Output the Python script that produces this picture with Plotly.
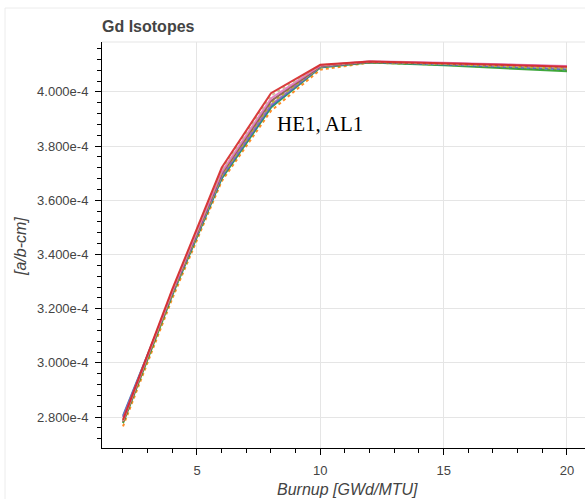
import plotly.graph_objects as go

# ---- data (values in atoms/b-cm) ----
burnup = [2, 4, 6, 8, 10, 12, 15, 20]

series_names = ["Case 1", "Case 2", "Case 3", "Case 4", "Case 5",
                "Case 6", "Case 7", "Case 8", "Case 9"]

case1 = [2.790e-4, 3.272e-4, 3.720e-4, 3.995e-4, 4.100e-4, 4.112e-4, 4.106e-4, 4.093e-4]
case2 = [2.788e-4, 3.268e-4, 3.712e-4, 3.986e-4, 4.098e-4, 4.112e-4, 4.104e-4, 4.090e-4]
case3 = [2.786e-4, 3.264e-4, 3.704e-4, 3.976e-4, 4.097e-4, 4.113e-4, 4.107e-4, 4.095e-4]
case4 = [2.782e-4, 3.260e-4, 3.698e-4, 3.966e-4, 4.095e-4, 4.110e-4, 4.106e-4, 4.094e-4]
case5 = [2.784e-4, 3.256e-4, 3.692e-4, 3.958e-4, 4.094e-4, 4.110e-4, 4.103e-4, 4.085e-4]
case6 = [2.800e-4, 3.258e-4, 3.688e-4, 3.952e-4, 4.093e-4, 4.111e-4, 4.103e-4, 4.086e-4]
case7 = [2.805e-4, 3.256e-4, 3.684e-4, 3.946e-4, 4.092e-4, 4.110e-4, 4.101e-4, 4.083e-4]
case8 = [2.778e-4, 3.250e-4, 3.680e-4, 3.942e-4, 4.090e-4, 4.108e-4, 4.098e-4, 4.076e-4]
case9 = [2.766e-4, 3.238e-4, 3.670e-4, 3.930e-4, 4.082e-4, 4.108e-4, 4.100e-4, 4.080e-4]

all_cases = [case1, case2, case3, case4, case5, case6, case7, case8, case9]

colors = ["#d62728", "#c9bd8f", "#e377c2", "#8c564b", "#bcbd22",
          "#9467bd", "#1f77b4", "#2ca02c", "#ff7f0e"]
dashes = ["solid", "dot", "solid", "solid", "dot",
          "solid", "solid", "solid", "dot"]

y_tick_vals = [2.8e-4, 3.0e-4, 3.2e-4, 3.4e-4, 3.6e-4, 3.8e-4, 4.0e-4]
y_tick_labels = ["2.800e-4", "3.000e-4", "3.200e-4", "3.400e-4",
                 "3.600e-4", "3.800e-4", "4.000e-4"]
x_tick_vals = [5, 10, 15, 20]
x_tick_labels = ["5", "10", "15", "20"]

title_text = "Gd Isotopes"
x_title = "Burnup [GWd/MTU]"
y_title = "[a/b-cm]"
note_text = "HE1, AL1"

# ---- figure ----
W, H = 585, 499
L, R, T, B = 102, 0, 42, 51
PW, PH = W - L - R, H - T - B

def px_to_paper_x(px):
    return (px - L) / PW

def px_to_paper_y(py):
    return (H - B - py) / PH

fig = go.Figure()
# draw in reverse so the red / pink cases sit on top
for name, vals, c, d in list(zip(series_names, all_cases, colors, dashes))[::-1]:
    fig.add_trace(go.Scatter(x=burnup, y=vals, mode="lines", name=name,
                             line=dict(color=c, width=2, dash=d), opacity=0.9))

font_main = "Liberation Sans, Arial, Helvetica, sans-serif"
axis_common = dict(
    showline=True, linecolor="black", linewidth=1,
    ticks="outside", ticklen=6, tickcolor="black", tickwidth=1,
    showgrid=True, gridcolor="#e5e5e5", gridwidth=1,
    zeroline=False,
    tickfont=dict(family=font_main, size=13, color="#444"),
)

fig.update_layout(
    width=W, height=H,
    margin=dict(l=L, r=R, t=T, b=B, pad=0),
    paper_bgcolor="white", plot_bgcolor="white",
    showlegend=False,
    title=dict(text="<b>" + title_text + "</b>",
               font=dict(family=font_main, size=16, color="#444"),
               x=0, xref="paper", xanchor="left",
               y=1 - 26 / H, yref="container", yanchor="middle"),
    xaxis=dict(range=[1.149, 20.73], tickmode="array",
               tickvals=x_tick_vals, ticktext=x_tick_labels,
               minor=dict(tick0=0, dtick=1, ticks="outside", ticklen=4,
                          tickcolor="black", showgrid=False),
               ticklabelstandoff=4,
               **axis_common),
    yaxis=dict(range=[2.686e-4, 4.184e-4], tickmode="array",
               tickvals=y_tick_vals, ticktext=y_tick_labels,
               minor=dict(tick0=2.8e-4, dtick=4e-6, ticks="outside", ticklen=4,
                          tickcolor="black", showgrid=False),
               ticklabelstandoff=4,
               **axis_common),
)

annotations = [
    dict(text="<i>" + x_title + "</i>", xref="paper", yref="paper",
         x=px_to_paper_x(347), y=px_to_paper_y(489),
         xanchor="center", yanchor="middle", showarrow=False,
         font=dict(family=font_main, size=16, color="#444")),
    dict(text="<i>" + y_title + "</i>", xref="paper", yref="paper",
         x=px_to_paper_x(20), y=px_to_paper_y(247), textangle=-90,
         xanchor="center", yanchor="middle", showarrow=False,
         font=dict(family=font_main, size=16, color="#444")),
    dict(text=note_text, xref="x", yref="y", x=8.15, y=3.882e-4,
         xanchor="left", yanchor="middle", showarrow=False,
         font=dict(family="Liberation Serif, Times New Roman, serif", size=21, color="black")),
]
fig.update_layout(annotations=annotations)

# frame outline (top) and faint outer border
fig.add_shape(type="line", xref="paper", yref="paper", x0=0, x1=1.05, y0=1, y1=1,
              line=dict(color="#e5e5e5", width=1), layer="below")
fig.add_shape(type="line", xref="paper", yref="paper",
              x0=px_to_paper_x(5), x1=px_to_paper_x(5),
              y0=px_to_paper_y(8), y1=px_to_paper_y(520),
              line=dict(color="#ececec", width=1))
fig.add_shape(type="line", xref="paper", yref="paper",
              x0=px_to_paper_x(5), x1=px_to_paper_x(600),
              y0=px_to_paper_y(8), y1=px_to_paper_y(8),
              line=dict(color="#ececec", width=1))

fig.write_html("out.html")
